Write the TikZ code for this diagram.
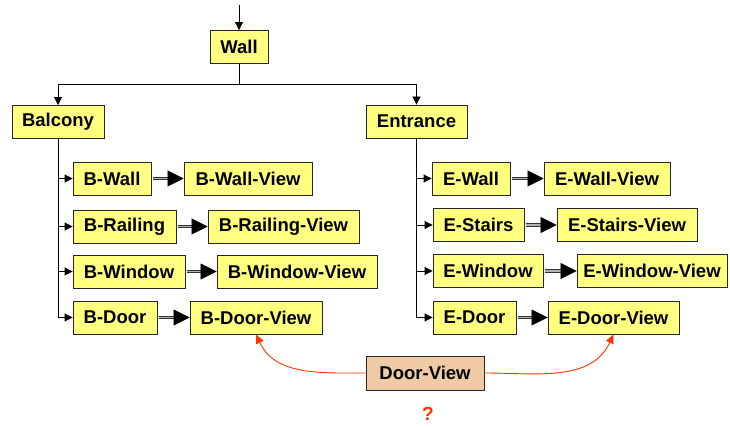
\documentclass[tikz,border=0pt]{standalone}
\usepackage{fontspec}
\setmainfont{Liberation Sans}
\usetikzlibrary{arrows.meta}
\definecolor{boxyellow}{RGB}{255,255,128}
\definecolor{boxtan}{RGB}{240,202,164}
\definecolor{linkred}{RGB}{255,51,0}
\tikzset{
  yb/.style={draw=black!85, line width=0.9pt, fill=boxyellow, inner sep=0pt,
    minimum height=33pt, font=\fontsize{18.5}{20}\selectfont\bfseries},
  tb/.style={yb, fill=boxtan},
  arr/.style={draw=black, line width=0.9pt, -{Triangle[length=8pt,width=8pt]}},
  dblouter/.style={draw=black!80, line width=3.8pt, shorten <=2pt, shorten >=14pt},
  dblinner/.style={draw=black!30, line width=1.4pt, shorten <=2pt, shorten >=14pt},
  bigtip/.style={draw=black, line width=0.5pt, -{Triangle[length=16pt,width=16pt]}},
  redarr/.style={draw=linkred, line width=0.9pt, -{Triangle[length=9pt,width=8pt]}}
}
% hollow-centred connector with a large solid head
\newcommand{\viewlink}[2]{%
  \draw[dblouter] (#1.east) -- (#2.west);
  \draw[dblinner] (#1.east) -- (#2.west);
  \draw[bigtip] ([xshift=-16pt]#2.west) -- (#2.west);
}
\begin{document}
\begin{tikzpicture}[x=1pt,y=-1pt]
\useasboundingbox (0,0) rectangle (730,427);

% top level
\coordinate (in) at (239,5);
\node[yb, minimum width=58pt] (wall) at (239,47) {Wall};
\node[yb, minimum width=92pt] (balcony) at (58,122) {Balcony};
\node[yb, minimum width=101pt] (entrance) at (416.5,121.5) {Entrance};

% balcony parts and views
\node[yb, minimum width=78pt]  (bwall)  at (112,178.5) {B-Wall};
\node[yb, minimum width=128pt] (bwallv) at (248,178.5) {B-Wall-View};
\node[yb, minimum width=103pt] (brail)  at (124.5,226.5) {B-Railing};
\node[yb, minimum width=151pt] (brailv) at (283.5,226.5) {B-Railing-View};
\node[yb, minimum width=112pt] (bwin)   at (129,271.5) {B-Window};
\node[yb, minimum width=160pt] (bwinv)  at (297,271.5) {B-Window-View};
\node[yb, minimum width=84pt]  (bdoor)  at (115,317.5) {B-Door};
\node[yb, minimum width=132pt] (bdoorv) at (256,317.5) {B-Door-View};

% entrance parts and views
\node[yb, minimum width=78pt]  (ewall)  at (471,178.5) {E-Wall};
\node[yb, minimum width=126pt] (ewallv) at (607,178.5) {E-Wall-View};
\node[yb, minimum width=91pt]  (estair) at (478.5,225) {E-Stairs};
\node[yb, minimum width=140pt] (estairv) at (627,225) {E-Stairs-View};
\node[yb, minimum width=110pt] (ewin)   at (488,271) {E-Window};
\node[yb, minimum width=150pt] (ewinv)  at (652,271) {E-Window-View};
\node[yb, minimum width=83pt]  (edoor)  at (474.5,317.5) {E-Door};
\node[yb, minimum width=131pt] (edoorv) at (613.5,317.5) {E-Door-View};

% shared view
\node[tb, minimum width=118pt, minimum height=34pt] (doorview) at (425,373) {Door-View};
\node[font=\fontsize{19}{20}\selectfont\bfseries, text=linkred, inner sep=1pt] (q) at (428,414) {?};

% tree connectors
\draw[arr] (in) -- (wall.north);
\draw[arr] (wall.south) -- ++(0,21) -| (balcony.north);
\draw[arr] (wall.south) -- ++(0,21) -| (entrance.north);
\foreach \n in {bwall,brail,bwin,bdoor}
  \draw[arr] (balcony.south) |- (\n.west);
\foreach \n in {ewall,estair,ewin,edoor}
  \draw[arr] (entrance.south) |- (\n.west);

% part -> view
\viewlink{bwall}{bwallv}
\viewlink{brail}{brailv}
\viewlink{bwin}{bwinv}
\viewlink{bdoor}{bdoorv}
\viewlink{ewall}{ewallv}
\viewlink{estair}{estairv}
\viewlink{ewin}{ewinv}
\viewlink{edoor}{edoorv}

% shared view links
\draw[redarr] (doorview.west) to[out=180,in=-65] (bdoorv.south);
\draw[redarr] (doorview.east) to[out=0,in=-115] (edoorv.south);
\end{tikzpicture}
\end{document}
